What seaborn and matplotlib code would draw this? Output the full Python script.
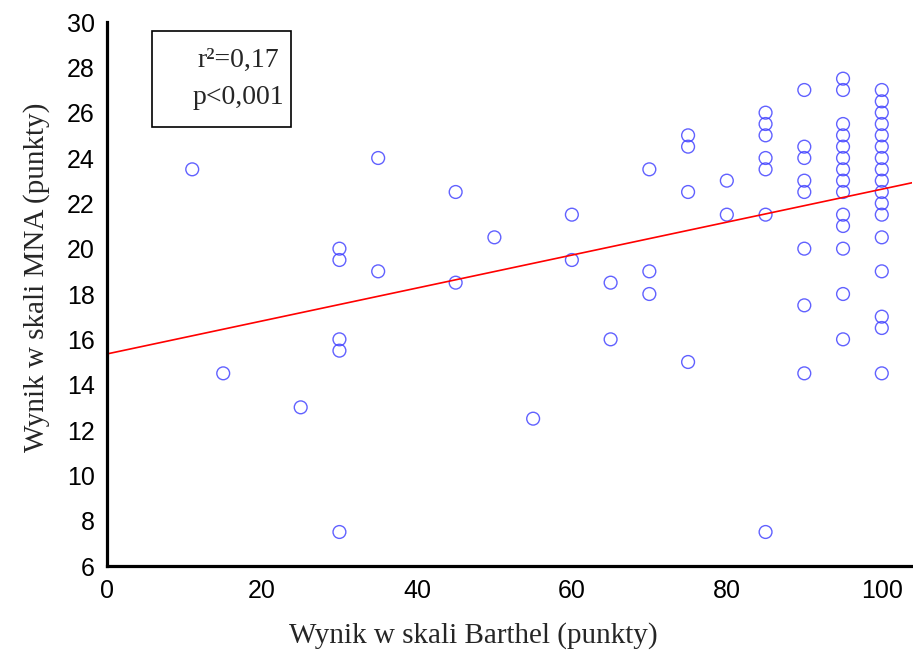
import matplotlib
matplotlib.use("Agg")
import matplotlib.pyplot as plt
import seaborn as sns
import pandas as pd
from matplotlib.patches import Rectangle

# Data
barthel = [11, 15, 25,
           30, 30, 30, 30, 30,
           35, 35,
           45, 45,
           50, 55,
           60, 60,
           65, 65,
           70, 70, 70,
           75, 75, 75, 75,
           80, 80,
           85, 85, 85, 85, 85, 85, 85,
           90, 90, 90, 90, 90, 90, 90, 90,
           95, 95, 95, 95, 95, 95, 95, 95, 95, 95, 95, 95, 95, 95,
           100, 100, 100, 100, 100, 100, 100, 100, 100, 100, 100, 100, 100, 100, 100, 100, 100]
mna = [23.5, 14.5, 13,
       20, 19.5, 16, 15.5, 7.5,
       24, 19,
       22.5, 18.5,
       20.5, 12.5,
       21.5, 19.5,
       18.5, 16,
       23.5, 19, 18,
       25, 24.5, 22.5, 15,
       23, 21.5,
       26, 25.5, 25, 24, 23.5, 21.5, 7.5,
       27, 24.5, 24, 23, 22.5, 20, 17.5, 14.5,
       27.5, 27, 25.5, 25, 24.5, 24, 23.5, 23, 22.5, 21.5, 21, 20, 18, 16,
       27, 26.5, 26, 25.5, 25, 24.5, 24, 23.5, 23, 22.5, 22, 21.5, 20.5, 19, 17, 16.5, 14.5]

x_ticks = [0, 20, 40, 60, 80, 100]
y_ticks = [6, 8, 10, 12, 14, 16, 18, 20, 22, 24, 26, 28, 30]
stats_lines = ["r²=0,17", "p<0,001"]
x_label = "Wynik w skali Barthel (punkty)"
y_label = "Wynik w skali MNA (punkty)"

df = pd.DataFrame({"barthel": barthel, "mna": mna})

sns.set_style("white")
plt.rcParams["font.family"] = ["Liberation Sans Narrow", "Liberation Sans", "DejaVu Sans"]

W, H = 913, 652
L, R, T, B = 107, 912, 22, 566
fig = plt.figure(figsize=(W / 100, H / 100), dpi=100)
ax = fig.add_axes([L / W, 1 - B / H, (R - L) / W, (B - T) / H])
ax.set_xlim(0, 103.9)
ax.set_ylim(6, 30)

sns.regplot(data=df, x="barthel", y="mna", ax=ax, ci=None, truncate=False,
            scatter_kws=dict(s=85, facecolors="none", edgecolors="#3a3aff", linewidths=1.0),
            line_kws=dict(color="red", lw=1.2))
ax.set_xlim(0, 103.9)
ax.set_ylim(6, 30)

ax.set_xticks(x_ticks)
ax.set_yticks(y_ticks)
ax.tick_params(direction="in", length=5, width=2.2, labelsize=18, pad=9, colors="black")
for s in ["top", "right"]:
    ax.spines[s].set_visible(False)
for s in ["left", "bottom"]:
    ax.spines[s].set_linewidth(2.3)
    ax.spines[s].set_color("black")

ax.set_xlabel(x_label, fontsize=21, family=["Liberation Serif"], labelpad=14)
ax.set_ylabel(y_label, fontsize=21, family=["Liberation Serif"], labelpad=12)
ax.xaxis.label.set_x((473 - L) / (R - L))
ax.yaxis.label.set_y(1 - (277 - T) / (B - T))

# statistics box
bx0, bx1, by0, by1 = 152, 291, 31, 127
ax.add_patch(Rectangle(((bx0 - L) / (R - L), 1 - (by1 - T) / (B - T)),
                       (bx1 - bx0) / (R - L), (by1 - by0) / (B - T),
                       transform=ax.transAxes, fill=False, edgecolor="black", lw=1.2,
                       clip_on=False, zorder=5))
tx = (238 - L) / (R - L)
ax.text(tx, 1 - (60 - T) / (B - T), stats_lines[0], transform=ax.transAxes,
        ha="center", va="center", fontsize=20, family=["Liberation Serif"])
ax.text(tx, 1 - (98 - T) / (B - T), stats_lines[1], transform=ax.transAxes,
        ha="center", va="center", fontsize=20, family=["Liberation Serif"])

fig.savefig("out.png", dpi=100)
